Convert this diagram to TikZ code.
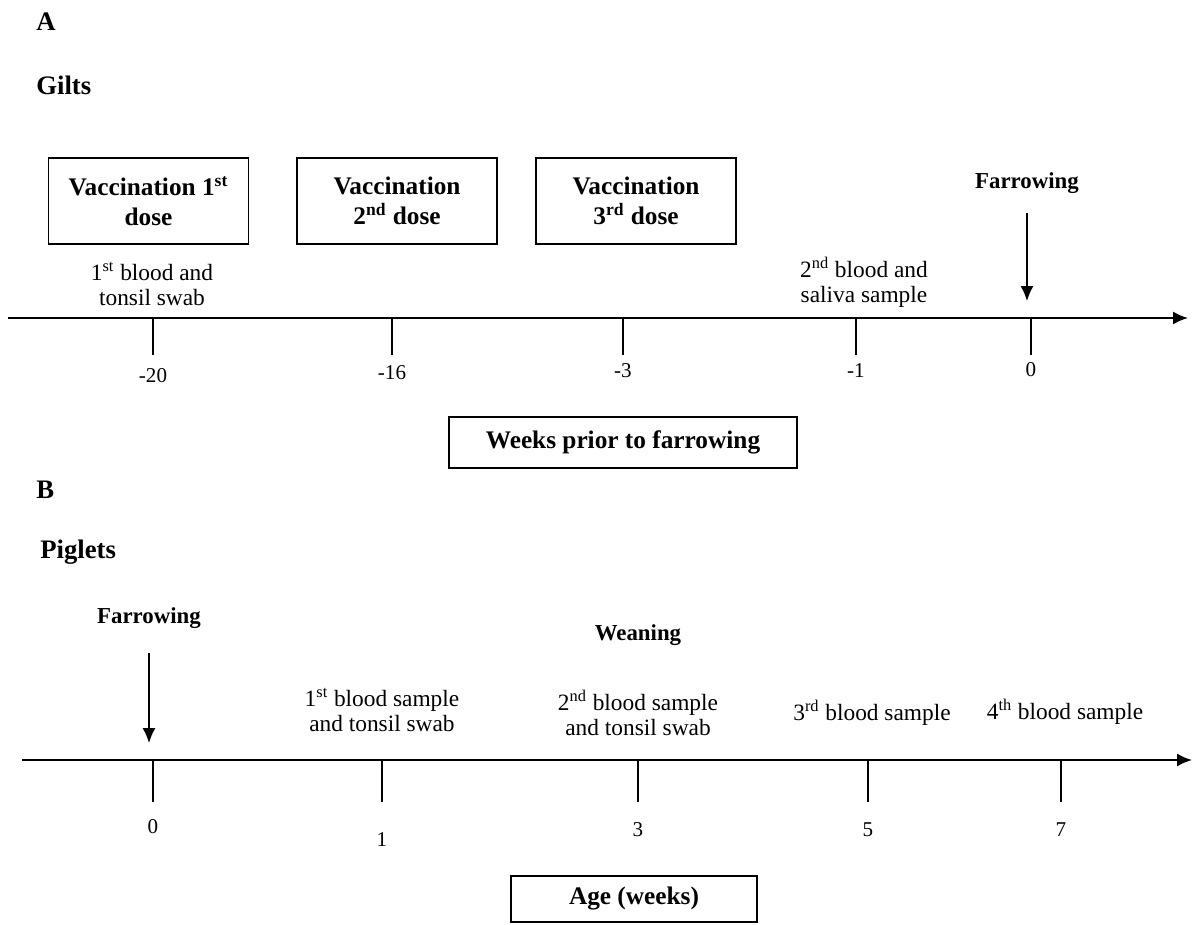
\documentclass[tikz,border=0pt]{standalone}
\usepackage{fontspec}
\setmainfont{Liberation Serif}
\usetikzlibrary{positioning,arrows.meta}

\begin{document}
\begin{tikzpicture}[
    x=0.02cm, y=-0.02cm,
    every node/.style={inner sep=0pt, font=\fontsize{13.3}{15}\selectfont},
    heading/.style={anchor=west, font=\fontsize{15.2}{18}\selectfont\bfseries},
    dosebox/.style={
        draw,
        line width=0.85pt,
        minimum width=4cm,
        minimum height=1.72cm,
        align=center,
        font=\fontsize{14.4}{17}\selectfont\bfseries
    },
    unitbox/.style={
        draw,
        line width=0.85pt,
        align=center,
        font=\fontsize{14.4}{17}\selectfont\bfseries
    },
    event/.style={font=\fontsize{13}{15}\selectfont\bfseries},
    sample/.style={align=center, font=\fontsize{13.3}{14.2}\selectfont},
    ticklabel/.style={font=\fontsize{12}{14}\selectfont},
    timeline/.style={line width=1.1pt, -{Latex[length=8.5pt,width=7.4pt]}},
    marker/.style={line width=0.85pt, -{Latex[length=8.5pt,width=7.4pt]}},
    tickline/.style={line width=0.75pt}
]
\useasboundingbox (0,0) rectangle (1194,924);

% A: gilts
\node[heading] (partA) at (36,22) {A};
\node[heading] (gilts) at (36,85) {Gilts};

\node[dosebox] (dose1) at (148.5,201) {Vaccination 1\textsuperscript{st}\\dose};
\node[dosebox] (dose2) at (397,201) {Vaccination\\2\textsuperscript{nd} dose};
\node[dosebox] (dose3) at (636,201) {Vaccination\\3\textsuperscript{rd} dose};

\node[event] (farrA) at (1027,183) {Farrowing};
\coordinate (farrAtop) at (1027,213);
\coordinate (farrAtip) at (1027,301);
\draw[marker] (farrAtop) -- (farrAtip);

\node[sample] (bloodA1) at (152,284) {1\textsuperscript{st} blood and\\tonsil swab};
\node[sample] (bloodA2) at (864,282) {2\textsuperscript{nd} blood and\\saliva sample};

\coordinate (axAstart) at (8,318);
\coordinate (axAend) at (1188,318);
\draw[timeline] (axAstart) -- (axAend);

\foreach \tx/\lab/\ly [count=\i] in {153/-20/376, 392/-16/373, 623/-3/371, 856/-1/371, 1031/0/370} {
    \coordinate (gtop\i) at (\tx,318);
    \coordinate (gbot\i) at (\tx,355);
    \draw[tickline] (gtop\i) -- (gbot\i);
    \node[ticklabel] (glab\i) at (\tx,\ly) {\lab};
}

\node[unitbox, minimum width=6.96cm, minimum height=1.02cm] (weeksA) at (623,442.5) {Weeks prior to farrowing};

% B: piglets
\node[heading] (partB) at (36,490) {B};
\node[heading] (piglets) at (40,552) {Piglets};

\node[event] (farrB) at (149,618) {Farrowing};
\coordinate (farrBtop) at (149,653);
\coordinate (farrBtip) at (149,743);
\draw[marker] (farrBtop) -- (farrBtip);

\node[event] (weaning) at (638,635) {Weaning};

\node[sample] (bloodB1) at (382,710) {1\textsuperscript{st} blood sample\\and tonsil swab};
\node[sample] (bloodB2) at (638,713) {2\textsuperscript{nd} blood sample\\and tonsil swab};
\node[sample] (bloodB3) at (872,713) {3\textsuperscript{rd} blood sample};
\node[sample] (bloodB4) at (1065,712) {4\textsuperscript{th} blood sample};

\coordinate (axBstart) at (22,760);
\coordinate (axBend) at (1192,760);
\draw[timeline] (axBstart) -- (axBend);

\foreach \tx/\lab/\ly [count=\i] in {153/0/827, 382/1/840, 638/3/830, 868/5/830, 1061/7/830} {
    \coordinate (ptop\i) at (\tx,760);
    \coordinate (pbot\i) at (\tx,802);
    \draw[tickline] (ptop\i) -- (pbot\i);
    \node[ticklabel] (plab\i) at (\tx,\ly) {\lab};
}

\node[unitbox, minimum width=4.92cm, minimum height=0.92cm] (ageB) at (634,899) {Age (weeks)};

\end{tikzpicture}
\end{document}
